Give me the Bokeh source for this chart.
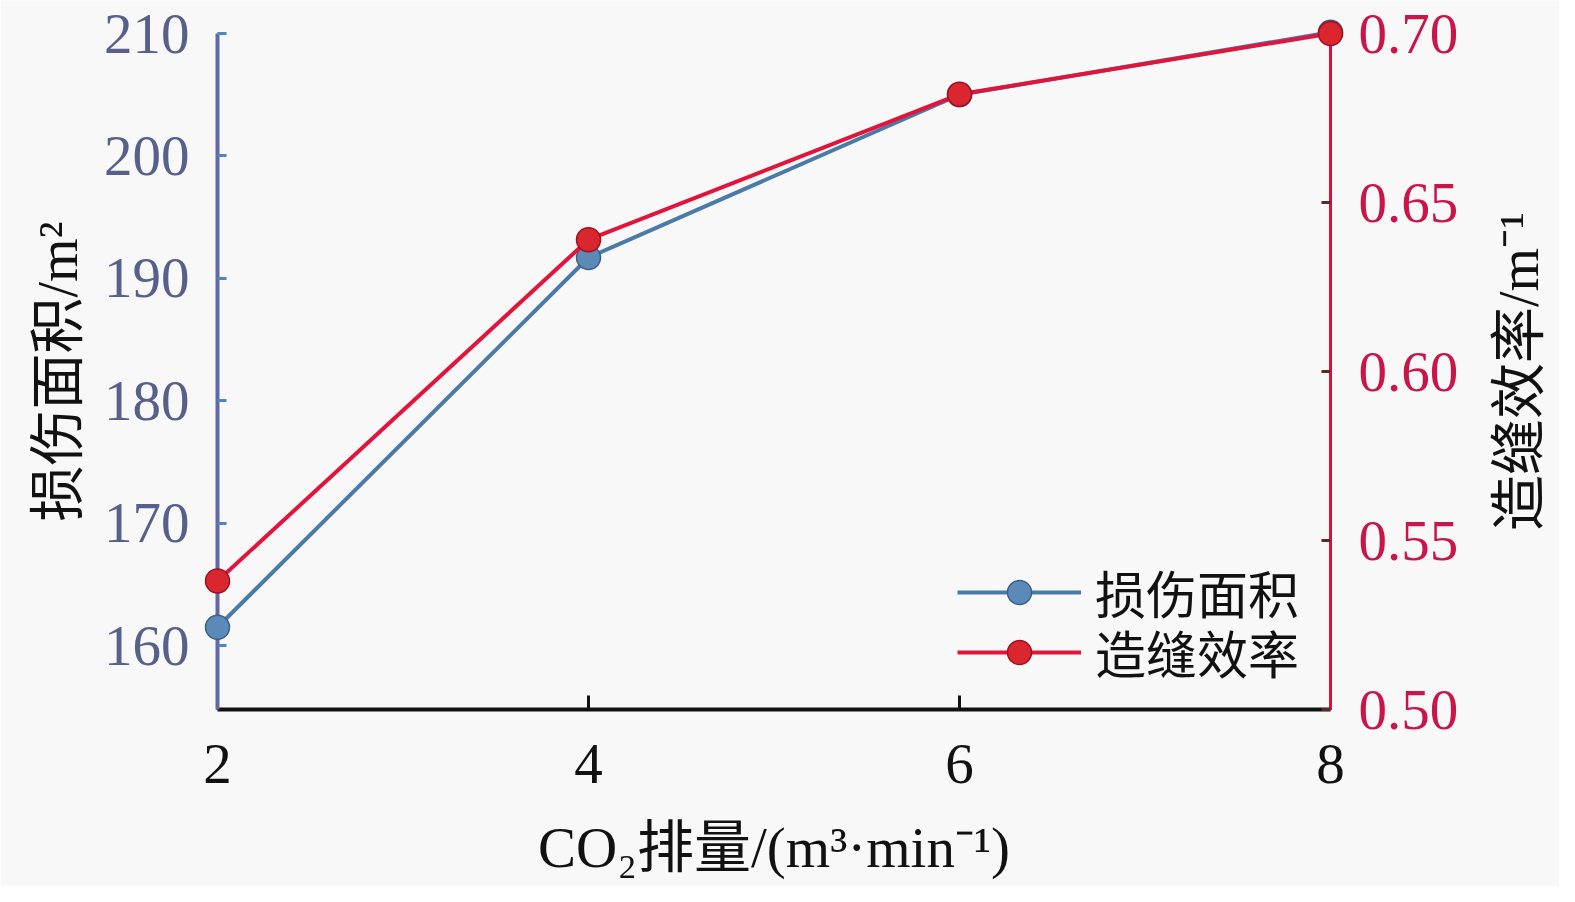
import math
from bokeh.plotting import figure
from bokeh.models import (Range1d, LinearAxis, Legend, LegendItem, FixedTicker,
                          PrintfTickFormatter)
from bokeh.core.properties import value
from bokeh.embed import file_html
from bokeh.resources import INLINE

# ---------------- data ----------------
x_rate = [2, 4, 6, 8]
damage_area = [161.5, 191.7, 205.0, 210.1]
frac_eff = [0.538, 0.639, 0.682, 0.700]
x_ticks = [2, 4, 6, 8]
left_ticks = [160, 170, 180, 190, 200, 210]
right_ticks = [0.50, 0.55, 0.60, 0.65, 0.70]
series_names = ["损伤面积", "造缝效率"]
x_label = "CO₂排量/(m³·min⁻¹)"
left_label = "损伤面积/m²"
right_label = "造缝效率/m⁻¹"

BG = "#f8f8f8"
SERIF = "Liberation Serif"
MIXED = "'Liberation Serif', 'Noto Sans CJK SC'"

BLUE_LINE = "#4a7aa8"
RED_LINE = "#e3143c"

p = figure(frame_width=1113, frame_height=676,
           min_border_left=217, min_border_right=229,
           min_border_top=33, min_border_bottom=177,
           x_range=Range1d(2, 8), y_range=Range1d(154.78, 210.0),
           output_backend="svg", toolbar_location=None,
           background_fill_color=BG, border_fill_color=BG,
           outline_line_color=None)
p.grid.visible = False
p.extra_y_ranges = {"r": Range1d(0.5, 0.70)}

# x axis
xa = p.xaxis[0]
xa.ticker = FixedTicker(ticks=x_ticks)
xa.axis_line_color = "#111111"
xa.axis_line_width = 4
xa.major_tick_in = 14
xa.major_tick_out = 0
xa.major_tick_line_color = "#111111"
xa.major_tick_line_width = 3
xa.minor_tick_line_color = None
xa.major_label_text_font = SERIF
xa.major_label_text_font_size = "57px"
xa.major_label_text_color = "#111111"
xa.major_label_standoff = 35
xa.axis_label = x_label
xa.axis_label_text_font = MIXED
xa.axis_label_text_font_size = "57px"
xa.axis_label_text_font_style = "normal"
xa.axis_label_text_color = "#111111"
xa.axis_label_standoff = 30

# left axis
ya = p.yaxis[0]
ya.ticker = FixedTicker(ticks=left_ticks)
ya.axis_line_color = "#6266ad"
ya.axis_line_width = 4
ya.major_tick_in = 9
ya.major_tick_out = 0
ya.major_tick_line_color = "#4d86b8"
ya.major_tick_line_width = 3
ya.minor_tick_line_color = None
ya.major_label_text_font = SERIF
ya.major_label_text_font_size = "57px"
ya.major_label_text_color = "#56608a"
ya.major_label_standoff = 28
ya.axis_label = left_label
ya.axis_label_text_font = MIXED
ya.axis_label_text_font_size = "56px"
ya.axis_label_text_font_style = "normal"
ya.axis_label_text_color = "#111111"
ya.axis_label_standoff = 12

# right axis
ra = LinearAxis(y_range_name="r",
                ticker=FixedTicker(ticks=right_ticks),
                formatter=PrintfTickFormatter(format="%.2f"))
ra.axis_line_color = "#d8123c"
ra.axis_line_width = 3
ra.major_tick_in = 9
ra.major_tick_out = 0
ra.major_tick_line_color = "#5a2a2a"
ra.major_tick_line_width = 3
ra.minor_tick_line_color = None
ra.major_label_text_font = SERIF
ra.major_label_text_font_size = "57px"
ra.major_label_text_color = "#c8164a"
ra.major_label_standoff = 28
p.add_layout(ra, "right")

# right axis title (reads bottom-to-top as in the reference); overlay level so
# it is not clipped to the frame
p.text(x=[x_ticks[-1]], y=[(right_ticks[0] + right_ticks[-1]) / 2],
       text=[right_label], y_range_name="r", level="overlay",
       angle=math.pi / 2, x_offset=188,
       text_font=value(MIXED), text_font_size="56px", text_color="#111111",
       text_align="center", text_baseline="middle")

# series (overlay level so that the end markers are not cut by the frame)
l1 = p.line(x_rate, damage_area, line_color=BLUE_LINE, line_width=4, level="overlay")
s1 = p.scatter(x_rate, damage_area, marker="circle", size=24, level="overlay",
               fill_color="#5b8ab8", line_color="#3f5f82", line_width=1.5)
l2 = p.line(x_rate, frac_eff, line_color=RED_LINE, line_width=4, y_range_name="r",
            level="overlay")
s2 = p.scatter(x_rate, frac_eff, marker="circle", size=24, y_range_name="r",
               level="overlay",
               fill_color="#d9262f", line_color="#a0101e", line_width=1.5)

common = dict(padding=0, margin=0, spacing=0, glyph_width=124, glyph_height=60,
              label_standoff=14, label_text_font=MIXED, label_text_font_size="51px",
              label_text_color="#111111", background_fill_alpha=0,
              border_line_color=None)
leg1 = Legend(items=[LegendItem(label=series_names[0], renderers=[l1, s1])],
              location=(740, 80), **common)
leg2 = Legend(items=[LegendItem(label=series_names[1], renderers=[l2, s2])],
              location=(740, 20), **common)
p.add_layout(leg1)
p.add_layout(leg2)

open("out.html", "w").write(file_html(p, INLINE))
